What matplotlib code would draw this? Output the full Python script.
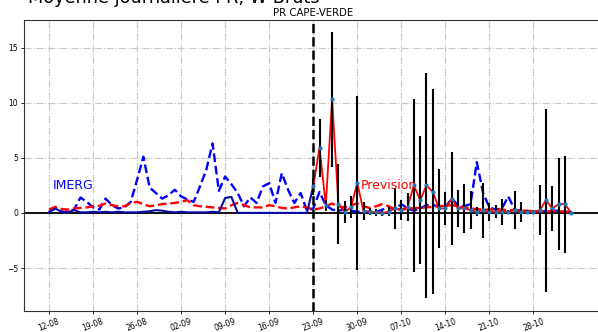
import numpy as np
import matplotlib.pyplot as plt

# days counted from 12-08 (day 0)
tick_days = [0, 7, 14, 21, 28, 35, 42, 49, 56, 63, 70, 77]
tick_labels = ["12-08", "19-08", "26-08", "02-09", "09-09", "16-09",
               "23-09", "30-09", "07-10", "14-10", "21-10", "28-10"]

# IMERG (blue dashed), days 0..83
imerg = [0.1, 0.45, 0.1, 0.1, 0.3, 1.4, 1.0, 0.5, 0.3, 1.3,
         0.7, 0.4, 0.5, 1.0, 3.0, 5.1, 2.3, 1.8, 1.3, 1.6,
         2.1, 1.5, 1.2, 1.0, 2.4, 3.9, 6.3, 2.0, 3.3, 2.6,
         1.8, 0.6, 1.4, 0.9, 2.4, 2.7, 0.9, 3.6, 2.1, 0.9,
         1.8, 0.2, 0.4, 1.9, 0.7, 0.3, 0.2, 0.3, 0.2, 0.1,
         0.1, 0.1, 0.1, 0.3, 0.5, 0.3, 0.8, 0.4, 0.2, 0.4,
         0.7, 0.7, 0.6, 0.5, 1.3, 0.7, 0.6, 0.8, 4.6, 1.8,
         0.5, 0.3, 0.4, 1.5, 0.3, 0.2, 0.1, 0.1, 0.1, 0.2,
         0.2, 0.2, 0.1, 0.1]

# climatology (red dashed), days 0..83
clim = [0.3, 0.55, 0.35, 0.3, 0.4, 0.45, 0.5, 0.6, 0.65, 0.85,
        0.7, 0.6, 0.6, 0.9, 1.0, 0.8, 0.6, 0.7, 0.8, 0.85,
        0.9, 1.0, 1.15, 0.7, 0.6, 0.55, 0.5, 0.45, 0.4, 0.7,
        0.9, 0.7, 0.5, 0.5, 0.5, 0.7, 0.6, 0.45, 0.4, 0.5,
        0.6, 0.5, 0.3, 0.4, 0.6, 0.85, 0.6, 0.5, 0.7, 0.85,
        0.6, 0.45, 0.6, 0.8, 0.6, 0.35, 0.3, 0.35, 0.45, 0.45,
        0.5, 0.55, 0.6, 0.65, 0.7, 0.6, 0.5, 0.4, 0.35, 0.3,
        0.3, 0.3, 0.3, 0.25, 0.25, 0.2, 0.2, 0.15, 0.15, 0.15,
        0.15, 0.15, 0.1, 0.05]

# observed model run (dark blue solid), days 0..42
obs = [0.05, 0.4, 0.1, 0.05, 0.25, 0.05, 0.05, 0.1, 0.05, 0.1,
       0.05, 0.1, 0.05, 0.05, 0.05, 0.1, 0.15, 0.25, 0.2, 0.1,
       0.05, 0.1, 0.05, 0.05, 0.05, 0.05, 0.1, 0.05, 1.35, 1.45,
       0.0, 0.0, 0.0, 0.0, 0.0, 0.0, 0.0, 0.0, 0.0, 0.0,
       0.0, 0.0, 2.4]

# forecast (red solid) with spread, from day 42
prev = [2.4, 5.9, 0.7, 10.3, 0.8, 0.1, 0.5, 2.7, 0.15, 0.1,
        0.05, 0.0, 0.1, 0.4, 0.3, 0.55, 2.5, 1.15, 2.5, 1.9,
        0.4, 0.4, 1.3, 0.4, 0.4, 0.25, 0.1, 0.25, 0.1, 0.1,
        0.1, 0.1, 0.25, 0.1, 0.1, 0.1, 0.25, 1.15, 0.4, 0.8,
        0.8, 0.0]
prev_err = [0.8, 2.6, 0.5, 6.1, 3.6, 1.0, 1.0, 7.9, 0.8, 0.3,
            0.3, 0.3, 0.4, 1.9, 0.9, 1.25, 7.85, 5.8, 10.2, 9.3,
            3.55, 1.5, 4.2, 1.7, 2.2, 1.7, 0.4, 2.5, 0.8, 0.6,
            1.2, 0.2, 1.75, 0.9, 0.2, 0.2, 2.3, 8.3, 2.0, 4.2,
            4.4, 0.2]

start_prev = 42

d_all = np.arange(len(imerg))
d_obs = np.arange(len(obs))
d_prev = np.arange(len(prev)) + start_prev

fig = plt.figure(figsize=(5.98, 3.32), dpi=100)
W, H = 598, 332
ax = fig.add_axes([23.5 / W, 1 - 311 / H, (602 - 23.5) / W, (311 - 20) / H])

ax.grid(True, linestyle='-.', color='#c8c8c8', linewidth=0.8)
ax.set_axisbelow(True)

ax.axhline(0, color='k', linewidth=1.3)
ax.plot(d_all, imerg, color='blue', linestyle='--', linewidth=1.7)
ax.plot(d_all, clim, color='red', linestyle='--', linewidth=1.7)
ax.plot(d_obs, obs, color='#0a0aa8', linewidth=1.5)
ax.errorbar(d_prev, prev, yerr=prev_err, fmt='.', color='#1f77b4',
            markersize=4, ecolor='k', elinewidth=1.5, capsize=0, zorder=3)
ax.plot(d_prev, prev, color='red', linewidth=1.3, zorder=2)
ax.axvline(start_prev, color='k', linestyle='--', linewidth=1.8)

ax.text(0.6, 2.5, "IMERG", color='blue', fontsize=9, va='center')
ax.text(49.5, 2.5, "Prevision", color='red', fontsize=9, va='center')

ax.set_xlim(-4.05, 87.9)
ax.set_ylim(-8.9, 17.5)
ax.set_yticks([-5, 0, 5, 10, 15])
ax.set_xticks(tick_days)
ax.set_xticklabels(tick_labels, rotation=20, ha='center')
ax.tick_params(labelsize=5.5, length=2.5, width=0.6, pad=1.5)
for s in ax.spines.values():
    s.set_color('#333333')

ax.set_title("PR CAPE-VERDE", fontsize=7.3, pad=3)
fig.text(174 / W, 1 - 3 / H, "Moyenne journalière PR, W Bruts",
         ha='center', va='baseline', fontsize=12.7)

fig.savefig("out.png", dpi=100)
